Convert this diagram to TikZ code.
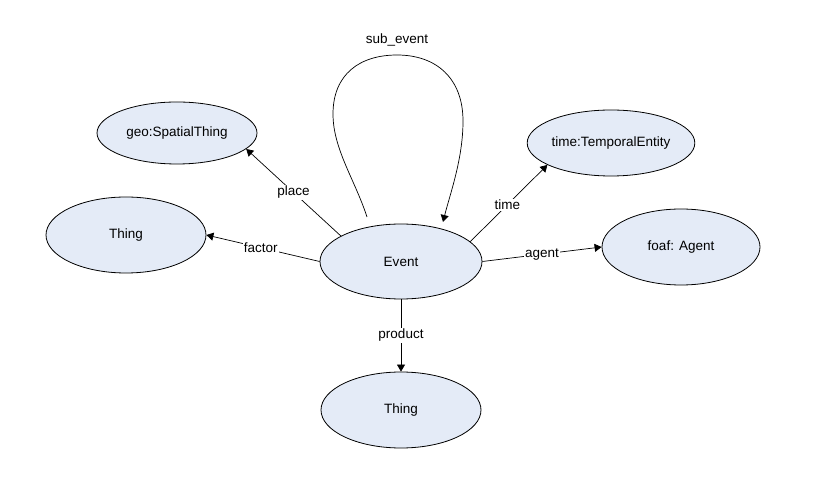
\documentclass[tikz,border=0pt]{standalone}
\usepackage{fontspec}
\setmainfont{Liberation Sans}
\usetikzlibrary{shapes.geometric,arrows.meta}
\definecolor{ellfill}{RGB}{228,235,247}
\begin{document}
\begin{tikzpicture}[x=1pt,y=1pt,
  concept/.style={ellipse,draw=black,line width=0.8pt,fill=ellfill,inner sep=0pt,font=\fontsize{13.5}{16}\selectfont},
  rel/.style={draw=black,line width=0.7pt,-{Triangle[length=7pt,width=8pt]}},
  lbl/.style={fill=white,inner sep=1pt,font=\fontsize{13.5}{16}\selectfont}]
\useasboundingbox (0,0) rectangle (832,479);
\node[concept,minimum width=160pt,minimum height=62pt] (geo) at (177,346) {geo:SpatialThing};
\node[concept,minimum width=160pt,minimum height=76pt] (thingL) at (126,244) {Thing};
\node[concept,minimum width=160pt,minimum height=66pt] (time) at (611,336) {time:TemporalEntity};
\node[concept,minimum width=158pt,minimum height=76pt] (agent) at (681,232) {foaf: Agent};
\node[concept,minimum width=162pt,minimum height=75pt] (event) at (401,217.5) {Event};
\node[concept,minimum width=160pt,minimum height=76pt] (thingB) at (401,69) {Thing};

\draw[rel] (event.157) -- node[lbl,pos=0.5] {place} (geo.347);
\draw[rel] (event.180) -- node[lbl,pos=0.52] {factor} (thingL.0);
\draw[rel] (event.16) -- node[lbl,pos=0.48] {time} (time.199);
\draw[rel] (event.0) -- node[lbl,pos=0.5] {agent} (agent.180);
\draw[rel] (event.270) -- node[lbl,pos=0.5] {product} (thingB.90);

\coordinate (ls) at ([shift={(-34,44.5)}]event.center);
\coordinate (le) at ([shift={(42,39.5)}]event.center);
\draw[rel] (ls) .. controls (355,299) and (333,330) .. (333,365)
  .. controls (333,405) and (360,424) .. (397,424)
  .. controls (437,424) and (463,400) .. (463,358)
  .. controls (463,320) and (450,285) .. (le);
\node[lbl] (sublbl) at (397,439) {sub\_event};
\end{tikzpicture}
\end{document}
